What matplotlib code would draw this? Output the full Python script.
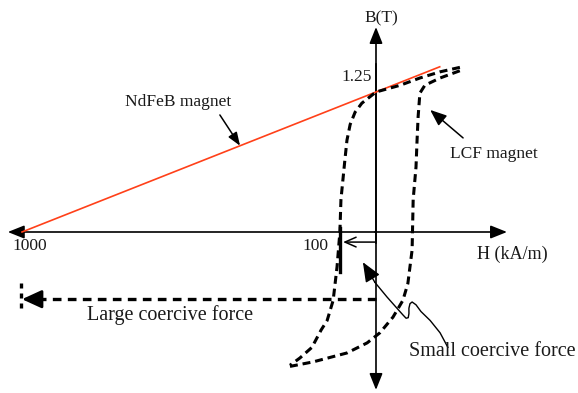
import numpy as np
import matplotlib.pyplot as plt
from matplotlib.patches import FancyArrowPatch

plt.rcParams['font.family'] = ['Liberation Serif', 'DejaVu Serif']

# NdFeB: straight recoil line from -Hc to beyond the B axis
nd_h = [-1000, 180]
nd_b = [0.0, 1.475]

# LCF hysteresis loop, descending branch (top right -> bottom left)
desc_h = [237, 181, 124, 68, 0, -40, -59, -73, -82, -88, -99, -102, -110,
          -121, -138, -155, -181, -215, -243]
desc_b = [1.47, 1.43, 1.375, 1.31, 1.25, 1.15, 1.07, 0.96, 0.82, 0.64, 0.29,
          0.0, -0.31, -0.61, -0.79, -0.875, -1.03, -1.125, -1.19]

# ascending branch (bottom left -> top right)
asc_h = [-243, -178, -82, -25, 11, 48, 76, 90, 102, 105, 113, 116, 119, 124,
         138, 181, 237]
asc_b = [-1.20, -1.16, -1.08, -0.99, -0.90, -0.76, -0.61, -0.46, -0.16, 0.29,
         0.58, 0.82, 1.03, 1.24, 1.31, 1.375, 1.44]

# leader line for "Small coercive force" (text end -> arrow tip), with a kink
lead_h = [203, 181, 153, 127, 113, 102, 96, 93, 93, 91, 85, 76, 59, 31, -3]
lead_b = [-1.03, -0.90, -0.79, -0.71, -0.65, -0.625, -0.64, -0.68, -0.73,
          -0.765, -0.77, -0.74, -0.68, -0.58, -0.45]
lead_tip = (-37, -0.27)

br = 1.25
hc_small = -102
hc_large = -1000

fig = plt.figure(figsize=(5.78, 3.93), dpi=100)
ax = fig.add_axes([0, 0, 1, 1])
ax.set_xlim(-1062.1, 570.6)
ax.set_ylim(-1.4375, 2.0714)
ax.axis('off')

txt = '#1a1a1a'


def arrow(p0, p1, style, lw=1.1, ls='-', ms=10):
    a = FancyArrowPatch(p0, p1, arrowstyle=style, mutation_scale=ms,
                        lw=lw, color='black', linestyle=ls,
                        shrinkA=0, shrinkB=0)
    ax.add_patch(a)


# H and B axes
arrow((-3, 0), (-1040, 0), '-|>,head_length=1.0,head_width=0.4', lw=1.2)
arrow((-3, 0), (370, 0), '-|>,head_length=1.0,head_width=0.4', lw=1.2)
ax.plot([0, 0], [-0.1, 1.5], color='black', lw=1.2)
arrow((0, 0), (0, 1.83), '-|>,head_length=1.0,head_width=0.4', lw=1.2)
arrow((0, 0), (0, -1.41), '-|>,head_length=1.0,head_width=0.4', lw=1.2)

# NdFeB line
ax.plot(nd_h, nd_b, color='#ff4019', lw=1.2)

# LCF loop
ax.plot(desc_h, desc_b, color='black', lw=2.2, ls=(0, (2.6, 1.6)))
ax.plot(asc_h, asc_b, color='black', lw=2.2, ls=(0, (2.6, 1.6)))

# small coercive force marker
ax.plot([hc_small, hc_small], [0.04, -0.36], color='black', lw=2.4)
arrow((-3, -0.09), (-93, -0.09), '->,head_length=0.8,head_width=0.35', lw=1.1)

# large coercive force marker
ax.plot([hc_large - 3, hc_large - 3], [-0.455, -0.72], color='black', lw=2.4,
        ls=(0, (1.5, 1.5)))
ax.plot([0, hc_large + 30], [-0.60, -0.60], color='black', lw=2.4,
        ls=(0, (2.6, 1.9)))
arrow((hc_large + 40, -0.60), (hc_large, -0.60),
      '-|>,head_length=1.2,head_width=0.55', lw=2.0)

# leader lines
ax.plot(lead_h, lead_b, color='black', lw=1.0, solid_joinstyle='round')
arrow((lead_h[-1], lead_b[-1]), lead_tip,
      '-|>,head_length=1.2,head_width=0.5', lw=1.0)
arrow((246, 0.84), (153, 1.09), '-|>,head_length=1.0,head_width=0.4', lw=1.1)
arrow((-441, 1.045), (-384, 0.77), '-|>,head_length=0.8,head_width=0.3',
      lw=1.1)

# labels
ax.text(14, 1.91, 'B(T)', fontsize=12.5, color=txt, ha='center', va='center')
ax.text(-11, 1.38, '1.25', fontsize=12.5, color=txt, ha='right', va='center')
ax.text(-977, -0.125, '1000', fontsize=12.5, color=txt, ha='center',
        va='center')
ax.text(-172, -0.125, '100', fontsize=12.5, color=txt, ha='center',
        va='center')
ax.text(384, -0.196, 'H (kA/m)', fontsize=13, color=txt, ha='center',
        va='center')
ax.text(-559, 1.16, 'NdFeB magnet', fontsize=12.5, color=txt, ha='center',
        va='center')
ax.text(333, 0.70, 'LCF magnet', fontsize=12.5, color=txt, ha='center',
        va='center')
ax.text(-582, -0.74, 'Large coercive force', fontsize=14.5, color=txt,
        ha='center', va='center')
ax.text(328, -1.07, 'Small coercive force', fontsize=14.5, color=txt,
        ha='center', va='center')

fig.savefig('out.png', dpi=100)
